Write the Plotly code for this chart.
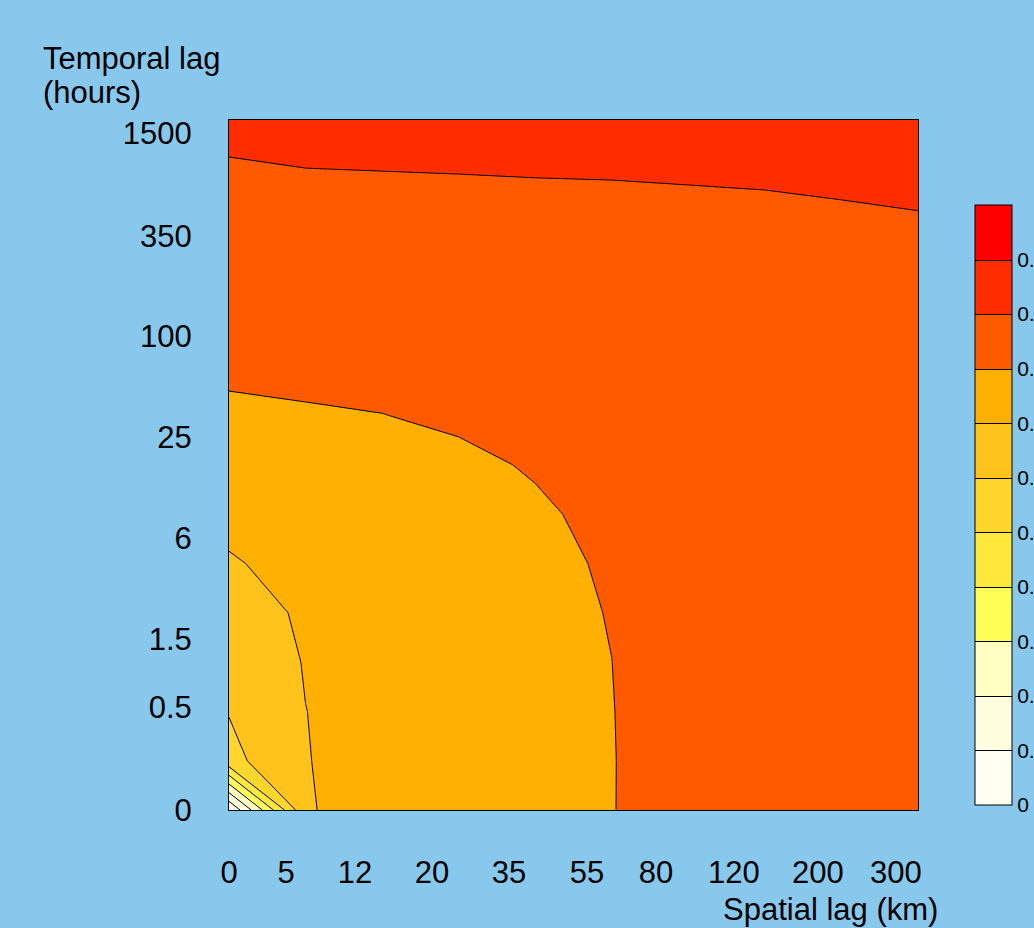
import plotly.graph_objects as go

# ---------------- data ----------------
spatial_lag_km = ["0", "5", "12", "20", "35", "55", "80", "120", "200", "300"]
temporal_lag_hours = ["0", "0.5", "1.5", "6", "25", "100", "350", "1500"]

# grid of the semivariance surface: 15 temporal rows (bottom -> top) x 10 spatial columns
semivariance = [
    [0.000, 0.345, 0.378, 0.385, 0.390, 0.398, 0.434, 0.438, 0.440, 0.441],
    [0.285, 0.348, 0.373, 0.382, 0.388, 0.398, 0.432, 0.438, 0.440, 0.441],
    [0.302, 0.3495, 0.370, 0.380, 0.387, 0.3985, 0.435, 0.438, 0.440, 0.441],
    [0.307, 0.3528, 0.370, 0.380, 0.388, 0.3998, 0.435, 0.439, 0.440, 0.441],
    [0.323, 0.358, 0.372, 0.380, 0.385, 0.402, 0.435, 0.439, 0.440, 0.441],
    [0.3458, 0.365, 0.375, 0.382, 0.378, 0.410, 0.435, 0.439, 0.440, 0.441],
    [0.3626, 0.372, 0.380, 0.387, 0.3916, 0.415, 0.436, 0.439, 0.440, 0.441],
    [0.372, 0.380, 0.386, 0.3878, 0.405, 0.420, 0.436, 0.439, 0.440, 0.441],
    [0.390, 0.395, 0.399, 0.4092, 0.415, 0.422, 0.437, 0.440, 0.441, 0.442],
    [0.410, 0.4129, 0.419, 0.423, 0.426, 0.429, 0.438, 0.440, 0.442, 0.443],
    [0.422, 0.423, 0.426, 0.429, 0.431, 0.433, 0.439, 0.441, 0.442, 0.444],
    [0.430, 0.431, 0.432, 0.434, 0.435, 0.437, 0.440, 0.441, 0.443, 0.445],
    [0.436, 0.437, 0.437, 0.438, 0.439, 0.440, 0.441, 0.442, 0.444, 0.446],
    [0.445, 0.4497, 0.4505, 0.4513, 0.4523, 0.4528, 0.4542, 0.4558, 0.4598, 0.471],
    [0.465, 0.462, 0.463, 0.464, 0.466, 0.468, 0.472, 0.476, 0.482, 0.490],
]

levels = [0.0, 0.05, 0.10, 0.15, 0.20, 0.25, 0.30, 0.35, 0.40, 0.45, 0.50, 0.55]
level_labels = ["0", "0.05", "0.1", "0.15", "0.2", "0.25", "0.3", "0.35", "0.4", "0.45", "0.5"]

band_colors = [
    "#FFFFF2", "#FFFFDF", "#FFFFC4", "#FFFF58", "#FFE83C", "#FFD62C",
    "#FFC31C", "#FFB000", "#FF5A00", "#FF2D00", "#FF0000",
]

# ---------------- layout helpers ----------------
x_tick_pos = [0.0, 0.745, 1.646, 2.652, 3.657, 4.676, 5.577, 6.596, 7.693, 8.712]
y_tick_pos = [0.0, 2.09, 3.46, 5.52, 7.57, 9.62, 11.65, 13.73]

FONT = "Liberation Sans, Arial, sans-serif"
BG = "#87C8EC"

ncols = len(semivariance[0])
nrows = len(semivariance)
n_b = len(band_colors)
colorscale = [[i / (n_b - 1), c] for i, c in enumerate(band_colors)]

fig = go.Figure(
    go.Contour(
        z=semivariance,
        x=list(range(ncols)),
        y=list(range(nrows)),
        zmin=levels[0],
        zmax=levels[-1],
        autocontour=False,
        contours=dict(start=levels[1], end=levels[-2], size=levels[1] - levels[0],
                      coloring="fill", showlines=True),
        line=dict(color="black", width=1, smoothing=0),
        colorscale=colorscale,
        hoverinfo="skip",
        colorbar=dict(
            thickness=37,
            len=600,
            lenmode="pixels",
            x=(975 - 229) / 689,
            xanchor="left",
            xpad=0,
            y=(810 - 505) / 690,
            yanchor="middle",
            ypad=0,
            outlinecolor="black",
            outlinewidth=1,
            tickvals=levels[:-1],
            ticktext=level_labels,
            ticks="",
            tickfont=dict(family=FONT, size=21, color="black"),
        ),
    )
)

fig.update_layout(
    width=1034,
    height=928,
    autosize=False,
    margin=dict(l=229, r=116, t=120, b=118, autoexpand=False),
    paper_bgcolor=BG,
    plot_bgcolor=BG,
    font=dict(family=FONT, size=31, color="black"),
    showlegend=False,
    xaxis=dict(
        range=[0, ncols - 1],
        tickmode="array",
        tickvals=x_tick_pos,
        ticktext=spatial_lag_km,
        ticks="",
        ticklabelstandoff=35,
        showgrid=False,
        zeroline=False,
        showline=True,
        linecolor="black",
        linewidth=1,
        mirror=True,
        tickfont=dict(family=FONT, size=31, color="black"),
    ),
    yaxis=dict(
        range=[0, nrows - 1],
        tickmode="array",
        tickvals=y_tick_pos,
        ticktext=temporal_lag_hours,
        ticks="",
        ticklabelstandoff=30,
        showgrid=False,
        zeroline=False,
        showline=True,
        linecolor="black",
        linewidth=1,
        mirror=True,
        tickfont=dict(family=FONT, size=31, color="black"),
    ),
    annotations=[
        dict(text="Temporal lag", xref="paper", yref="paper", x=(41 - 229) / 689,
             y=(810 - 58) / 690, xanchor="left", yanchor="middle", showarrow=False,
             font=dict(family=FONT, size=31, color="black")),
        dict(text="(hours)", xref="paper", yref="paper", x=(41 - 229) / 689,
             y=(810 - 92) / 690, xanchor="left", yanchor="middle", showarrow=False,
             font=dict(family=FONT, size=31, color="black")),
        dict(text="Spatial lag (km)", xref="paper", yref="paper", x=(721 - 229) / 689,
             y=(810 - 909) / 690, xanchor="left", yanchor="middle", showarrow=False,
             font=dict(family=FONT, size=31, color="black")),
    ],
)

fig.write_html(
    "out.html",
    config={"displayModeBar": False},
    post_script="document.body.style.margin='0';document.body.style.overflow='hidden';",
)
